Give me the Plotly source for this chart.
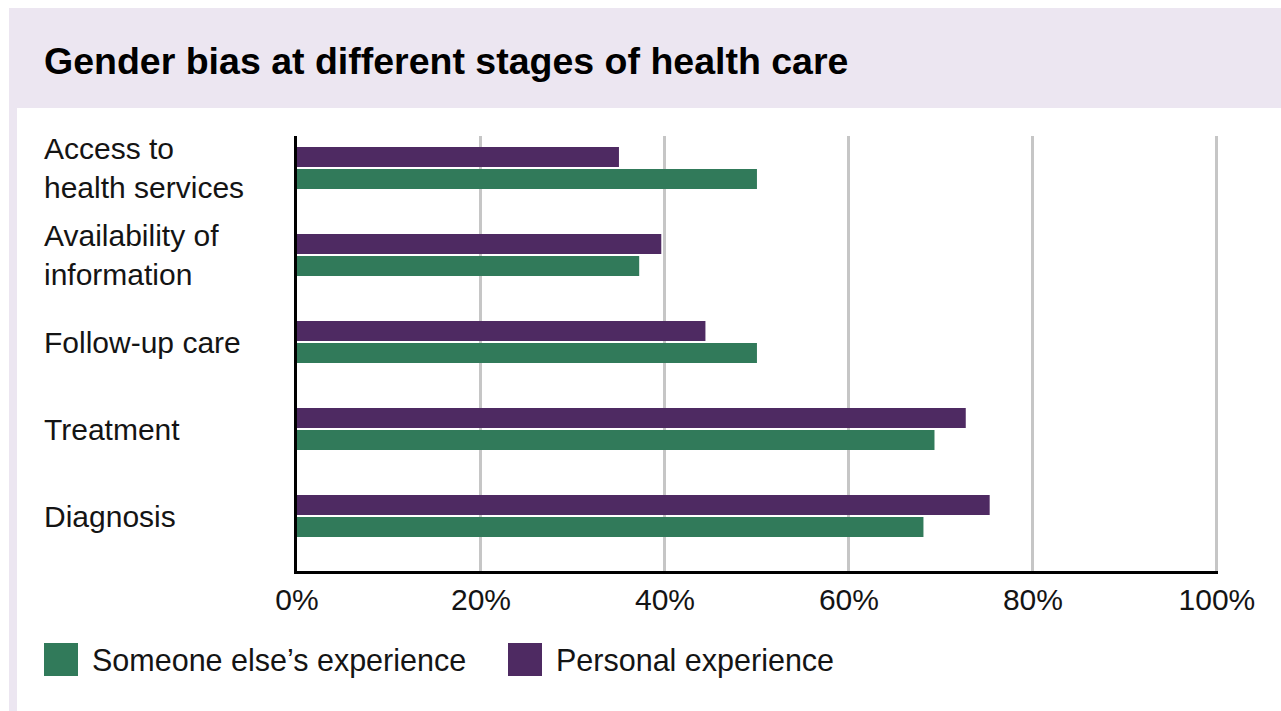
import plotly.graph_objects as go

# Stages of care, listed bottom to top on the chart
categories = ["Diagnosis", "Treatment", "Follow-up care",
              "Availability of information", "Access to health services"]
category_labels = ["Diagnosis", "Treatment", "Follow-up care",
                   "Availability of<br>information", "Access to<br>health services"]

# Share of respondents reporting gender bias (%)
someone_else = [68.1, 69.3, 50.0, 37.2, 50.0]
personal = [75.3, 72.7, 44.4, 39.6, 35.0]

x_ticks = [0, 20, 40, 60, 80, 100]
x_tick_labels = ["0%", "20%", "40%", "60%", "80%", "100%"]

GREEN = "#317a5a"
PURPLE = "#4e2a62"
LAVENDER = "#ece6f1"
FONT = "Liberation Sans, Arial, sans-serif"
TEXT = "#141414"

W, H = 1281, 711
ML, MR, MT, MB = 297, 63, 136, 140
PW, PH = W - ML - MR, H - MT - MB


def px(x):
    return (x - ML) / PW


def py(y):
    return (H - MB - y) / PH


fig = go.Figure()
fig.add_trace(go.Bar(y=categories, x=someone_else, orientation="h",
                     name="Someone else’s experience", marker_color=GREEN,
                     marker_line_width=0, hoverinfo="x+y"))
fig.add_trace(go.Bar(y=categories, x=personal, orientation="h",
                     name="Personal experience", marker_color=PURPLE,
                     marker_line_width=0, hoverinfo="x+y"))

shapes = [
    # header band and left strip
    dict(type="rect", xref="paper", yref="paper", layer="below",
         x0=px(9), x1=px(W), y0=py(108), y1=py(8),
         fillcolor=LAVENDER, line_width=0),
    dict(type="rect", xref="paper", yref="paper", layer="below",
         x0=px(9), x1=px(17), y0=py(711), y1=py(108),
         fillcolor=LAVENDER, line_width=0),
]

annotations = [
    dict(text="<b>Gender bias at different stages of health care</b>",
         xref="paper", yref="paper", x=px(42), y=py(61),
         xanchor="left", yanchor="middle", showarrow=False,
         font=dict(family=FONT, size=37.5, color="#000000")),
]

for cat, lab in zip(categories, category_labels):
    annotations.append(dict(text=lab, xref="paper", yref="y", x=px(42), y=cat,
                            xanchor="left", yanchor="middle", align="left",
                            showarrow=False,
                            font=dict(family=FONT, size=30, color=TEXT)))

# legend swatches and labels
legend_items = [("Someone else’s experience", GREEN, 44),
                ("Personal experience", PURPLE, 508)]
for name, color, x0 in legend_items:
    shapes.append(dict(type="rect", xref="paper", yref="paper",
                       x0=px(x0), x1=px(x0 + 34), y0=py(676), y1=py(643),
                       fillcolor=color, line_width=0))
    annotations.append(dict(text=name, xref="paper", yref="paper",
                            x=px(x0 + 46), y=py(660), xanchor="left",
                            yanchor="middle", showarrow=False,
                            font=dict(family=FONT, size=30.5, color=TEXT)))

fig.update_layout(
    width=W, height=H,
    margin=dict(l=ML, r=MR, t=MT, b=MB, pad=0),
    paper_bgcolor="white", plot_bgcolor="white",
    barmode="group", bargap=0.494, bargroupgap=0.1,
    showlegend=False,
    shapes=shapes, annotations=annotations,
    font=dict(family=FONT, size=30, color=TEXT),
)

fig.update_xaxes(range=[0, 100.12], tickvals=x_ticks, ticktext=x_tick_labels,
                 showgrid=True, gridcolor="#c6c6c6", gridwidth=2.5,
                 zeroline=False, showline=True, linecolor="#000000",
                 linewidth=2.5, ticks="", ticklabelstandoff=0,
                 tickfont=dict(family=FONT, size=30, color=TEXT),
                 fixedrange=True)
fig.update_yaxes(type="category", categoryorder="array",
                 categoryarray=categories, range=[-0.632, 4.368],
                 showticklabels=False, showgrid=False, zeroline=False,
                 showline=True, linecolor="#000000", linewidth=2.5,
                 ticks="", fixedrange=True)

fig.write_html("out.html", config={"displayModeBar": False})
